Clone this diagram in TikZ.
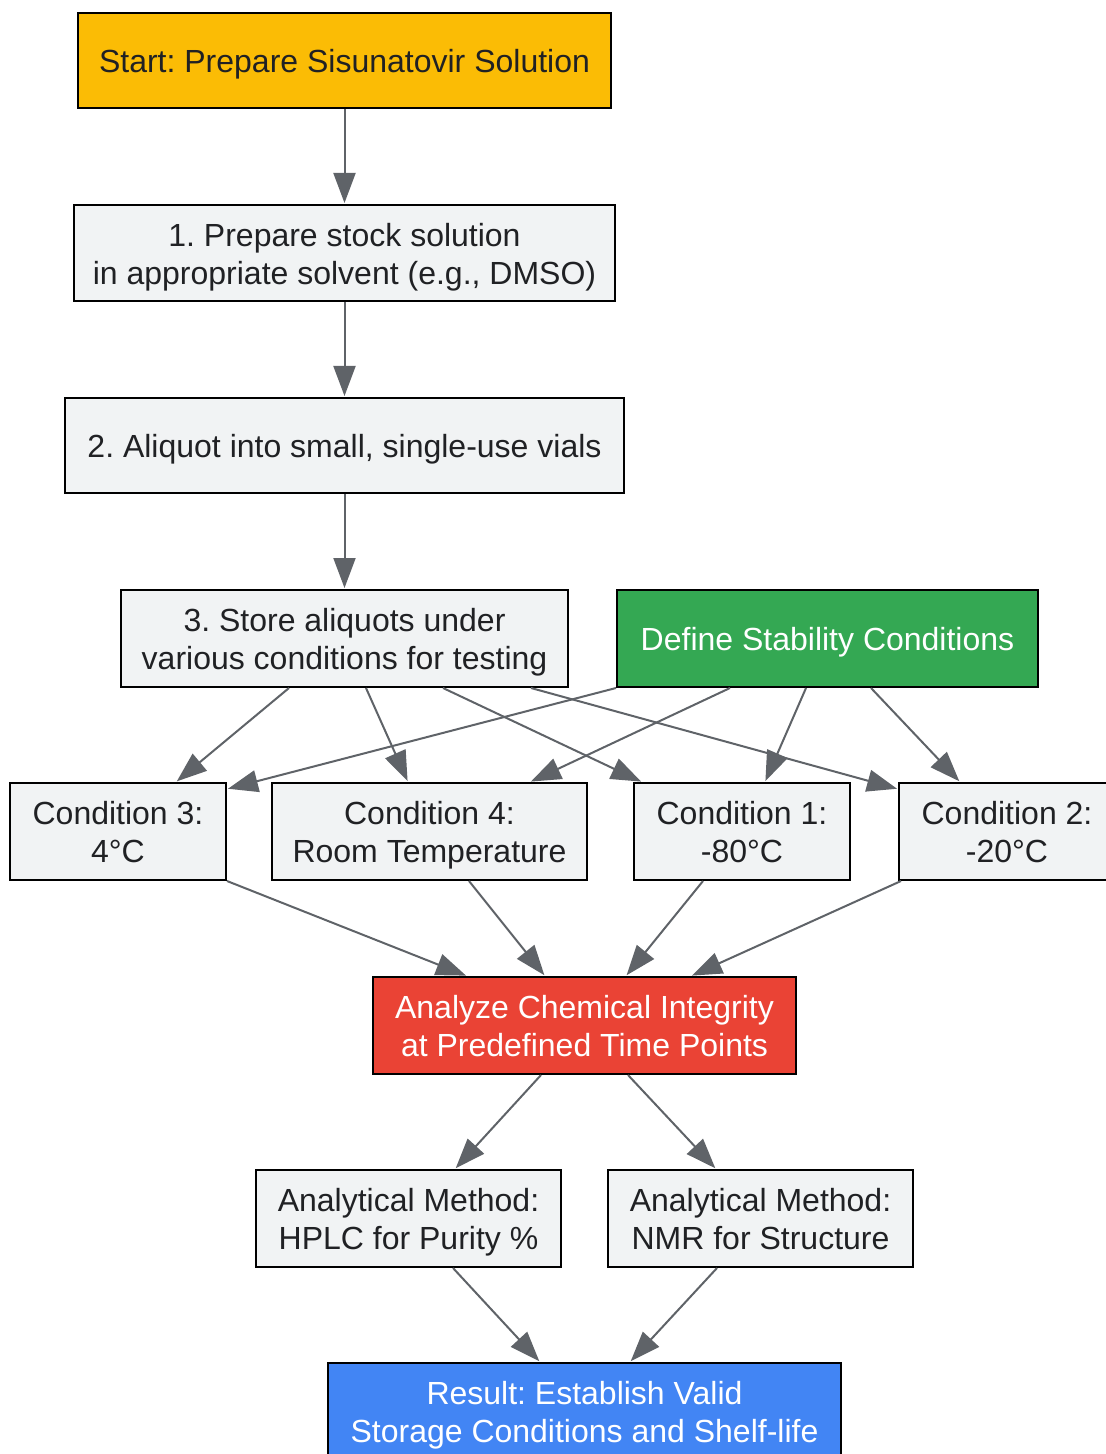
\documentclass[tikz,border=0pt]{standalone}
\usepackage{fontspec}
\setmainfont{Liberation Sans}
\frenchspacing
\usetikzlibrary{arrows.meta}
\definecolor{cstart}{HTML}{FBBC05}
\definecolor{cgray}{HTML}{F1F3F4}
\definecolor{cgreen}{HTML}{34A853}
\definecolor{cred}{HTML}{EA4335}
\definecolor{cblue}{HTML}{4285F4}
\definecolor{cedge}{HTML}{5F6368}
\definecolor{ctext}{HTML}{202124}
\tikzset{
  box/.style={draw=black, line width=1pt, fill=cgray, inner sep=0pt},
  txt/.style={align=center, inner sep=0pt, font=\fontsize{16}{19}\selectfont},
  conn/.style={draw=cedge, line width=1pt, -{Triangle[length=15pt,width=11pt]}, shorten >=0.5pt}
}
% #1 name, #2 position, #3 width, #4 height, #5 fill, #6 text colour, #7 text
\newcommand\mybox[7]{%
  \node[box, fill=#5, minimum width=#3, minimum height=#4] (#1) at #2 {};
  \node[txt, text=#6] (#1-t) at ([yshift=-2.25pt]#1.center) {\strut #7\strut};}
\begin{document}
\begin{tikzpicture}[x=0.5pt,y=-0.5pt]
\useasboundingbox (0,0) rectangle (1105,1454);
\mybox{start}{(344.5,60.5)}{266.5pt}{47.5pt}{cstart}{ctext}{Start: Prepare Sisunatovir Solution}
\mybox{s1}{(344.5,253)}{270.5pt}{48pt}{cgray}{ctext}{1. Prepare stock solution\\in appropriate solvent (e.g., DMSO)}
\mybox{s2}{(344.5,445.5)}{279.5pt}{47.5pt}{cgray}{ctext}{2. Aliquot into small, single-use vials}
\mybox{s3}{(344.5,638.5)}{223.5pt}{48.5pt}{cgray}{ctext}{3. Store aliquots under\\various conditions for testing}
\mybox{def}{(827.5,638.5)}{210.5pt}{48.5pt}{cgreen}{white}{Define Stability Conditions}
\mybox{c3}{(118,831.5)}{108pt}{48.5pt}{cgray}{ctext}{Condition 3:\\4°C}
\mybox{c4}{(429.5,831.5)}{157.5pt}{48.5pt}{cgray}{ctext}{Condition 4:\\Room Temperature}
\mybox{c1}{(742,831.5)}{108pt}{48.5pt}{cgray}{ctext}{Condition 1:\\-80°C}
\mybox{c2}{(1007,831.5)}{108pt}{48.5pt}{cgray}{ctext}{Condition 2:\\-20°C}
\mybox{an}{(584.5,1025.5)}{211.5pt}{48.5pt}{cred}{white}{Analyze Chemical Integrity\\at Predefined Time Points}
\mybox{hplc}{(408.5,1218.5)}{152.5pt}{48.5pt}{cgray}{ctext}{Analytical Method:\\HPLC for Purity \%}
\mybox{nmr}{(760.5,1218.5)}{152.5pt}{48.5pt}{cgray}{ctext}{Analytical Method:\\NMR for Structure}
\mybox{res}{(584.5,1411.5)}{256.5pt}{48.5pt}{cblue}{white}{Result: Establish Valid\\Storage Conditions and Shelf-life}

\draw[conn] (start.south) -- (s1.north);
\draw[conn] (s1.south) -- (s2.north);
\draw[conn] (s2.south) -- (s3.north);

\draw[conn] ([xshift=-27.75pt]s3.south) -- ([xshift=29pt]c3.north);
\draw[conn] ([xshift=10.75pt]s3.south) -- ([xshift=-10.75pt]c4.north);
\draw[conn] ([xshift=49.25pt]s3.south) -- ([xshift=-50pt]c1.north);
\draw[conn] ([xshift=93.25pt]s3.south) -- ([yshift=-3.5pt]c2.north west);

\draw[conn] (def.south west) -- ([yshift=-3.5pt]c3.north east);
\draw[conn] ([xshift=-48.75pt]def.south) -- ([xshift=50.25pt]c4.north);
\draw[conn] ([xshift=-10.75pt]def.south) -- ([xshift=11.5pt]c1.north);
\draw[conn] ([xshift=21.75pt]def.south) -- ([xshift=-23.5pt]c2.north);

\draw[conn] (c3.south east) -- ([xshift=-58.75pt]an.north);
\draw[conn] ([xshift=19.75pt]c4.south) -- ([xshift=-19.75pt]an.north);
\draw[conn] ([xshift=-19.5pt]c1.south) -- ([xshift=20.75pt]an.north);
\draw[conn] ([xshift=-53pt]c2.south) -- ([xshift=53.25pt]an.north);

\draw[conn] ([xshift=-21.75pt]an.south) -- ([xshift=23.25pt]hplc.north);
\draw[conn] ([xshift=21.75pt]an.south) -- ([xshift=-22.25pt]nmr.north);
\draw[conn] ([xshift=22.25pt]hplc.south) -- ([xshift=-22.25pt]res.north);
\draw[conn] ([xshift=-21.75pt]nmr.south) -- ([xshift=22.75pt]res.north);
\end{tikzpicture}
\end{document}
